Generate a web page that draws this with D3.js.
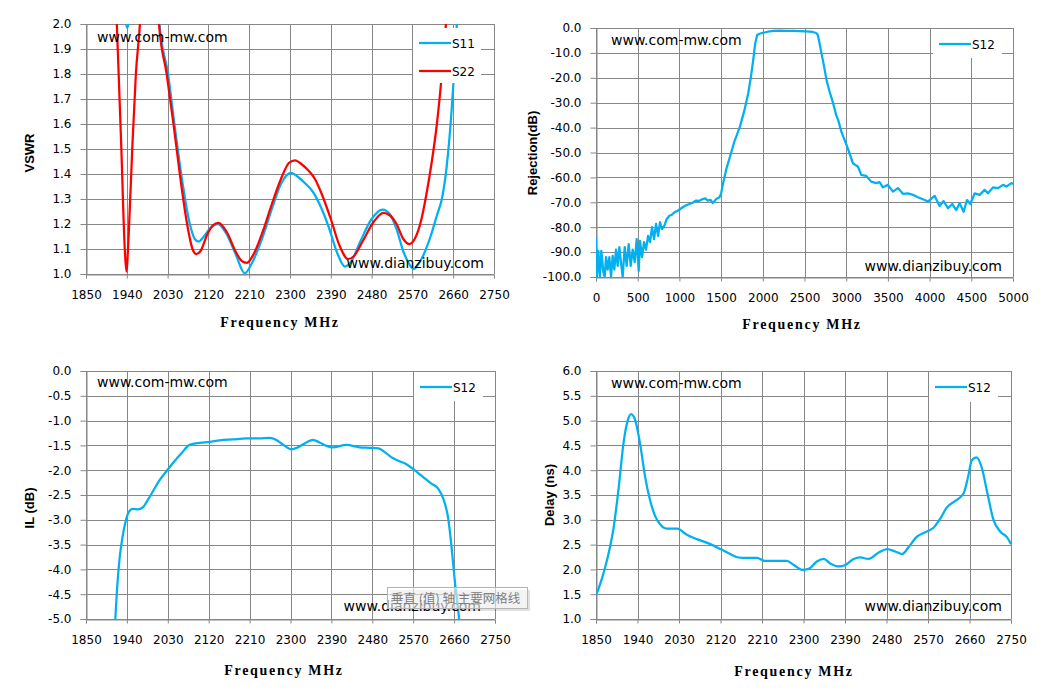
<!DOCTYPE html>
<html>
<head>
<meta charset="utf-8">
<script src="https://cdn.jsdelivr.net/npm/d3@7"></script>
<style>
body{margin:0;background:#fff}
svg{display:block}
</style>
</head>
<body>
<svg id="chart" width="1040" height="688"></svg>
<script>
//---tick values---
var freqTicks = [1850,1940,2030,2120,2210,2300,2390,2480,2570,2660,2750]
var wideTicks = [0,500,1000,1500,2000,2500,3000,3500,4000,4500,5000]
var vswrTicks = [1.0,1.1,1.2,1.3,1.4,1.5,1.6,1.7,1.8,1.9,2.0]
var rejTicks = [0,-10,-20,-30,-40,-50,-60,-70,-80,-90,-100]
var ilTicks = [0,-0.5,-1,-1.5,-2,-2.5,-3,-3.5,-4,-4.5,-5]
var delayTicks = [1,1.5,2,2.5,3,3.5,4,4.5,5,5.5,6]

//---VSWR [MHz, value]---
var s11Vswr = [[1900,3.0],[1925,2.4],[1933,2.08],[1941,1.985],[1949,2.08],[1960,2.6],[1990,2.6],[2004,2.2],[2012,2.0],
  [2031,1.8],[2045,1.6],[2060,1.4],[2079,1.2],[2090,1.14],[2098,1.13],[2110,1.15],[2125,1.185],[2141,1.2],[2160,1.16],
  [2180,1.08],[2200,1.003],[2215,1.04],[2240,1.15],[2260,1.26],[2280,1.36],[2302,1.405],[2320,1.385],[2335,1.36],
  [2350,1.33],[2365,1.28],[2385,1.19],[2405,1.08],[2421,1.03],[2435,1.05],[2455,1.13],[2480,1.22],[2504,1.258],
  [2520,1.24],[2535,1.18],[2550,1.09],[2563,1.04],[2573,1.02],[2590,1.06],[2610,1.15],[2625,1.24],[2635,1.3],
  [2645,1.42],[2652,1.55],[2660,1.75],[2668,2.0],[2680,2.4]]
var s22Vswr = [[1900,3.0],[1912,2.3],[1918,2.0],[1928,1.5],[1935,1.12],[1939,1.01],[1944,1.15],[1952,1.5],[1960,1.8],
  [1969,2.0],[1980,2.4],[2000,2.4],[2011,2.0],[2028,1.8],[2043,1.6],[2057,1.4],[2073,1.2],[2085,1.1],[2093,1.08],
  [2102,1.09],[2118,1.16],[2130,1.195],[2142,1.205],[2160,1.17],[2180,1.09],[2195,1.05],[2205,1.045],[2220,1.08],
  [2240,1.17],[2260,1.28],[2280,1.38],[2298,1.445],[2311,1.455],[2325,1.44],[2340,1.415],[2355,1.38],[2370,1.32],
  [2390,1.22],[2410,1.11],[2428,1.06],[2440,1.07],[2460,1.13],[2485,1.21],[2506,1.245],[2520,1.235],[2535,1.2],
  [2550,1.14],[2563,1.12],[2575,1.14],[2590,1.22],[2600,1.31],[2612,1.44],[2624,1.6],[2635,1.8],[2644,2.0],[2655,2.3]]

//---Rejection 0-5000 MHz---
var s12Rej = [[0,-84],[12,-100],[28,-89.5],[48,-100],[64,-89.5],[88,-98],[104,-100],[120,-92],[140,-97],[160,-92],
  [180,-100],[200,-91.5],[220,-97],[240,-89],[260,-95.5],[280,-88],[304,-95.5],[320,-100],[344,-88],[368,-95.5],
  [392,-86.8],[416,-95.5],[440,-89],[464,-94],[488,-84.8],[512,-97.6],[528,-85.5],[552,-92],[576,-86],[600,-89],
  [624,-83.5],[648,-86],[672,-80],[696,-84.8],[720,-78.7],[744,-83.5],[768,-78],[792,-80.8],[820,-79.4],[848,-76.7],
  [880,-75.4],[910,-75],[940,-74],[980,-73.4],[1040,-72],[1080,-71.2],[1120,-70.7],[1160,-70.2],[1200,-69.3],
  [1240,-69.4],[1280,-68.7],[1310,-68.4],[1340,-69.3],[1370,-69],[1400,-70.3],[1420,-69.6],[1440,-68.7],[1480,-68],
  [1500,-66.5],[1520,-63],[1560,-57],[1606,-51.7],[1660,-45.5],[1725,-39.7],[1780,-33],[1825,-26.3],[1860,-19],
  [1885,-12.9],[1910,-6],[1933,-2.8],[1960,-2.3],[2005,-1.9],[2060,-1.5],[2125,-1.2],[2200,-1.1],[2285,-1.2],
  [2360,-1.2],[2444,-1.3],[2520,-1.4],[2600,-1.6],[2640,-2.0],[2660,-2.8],[2680,-6],[2704,-10.2],[2735,-15.5],
  [2764,-20.9],[2800,-25.5],[2844,-30.3],[2880,-35],[2904,-37],[2943,-41.7],[2980,-44.9],[3010,-47.5],[3040,-50.3],
  [3080,-54.3],[3110,-55],[3140,-55.6],[3180,-59],[3210,-59.2],[3240,-59.4],[3300,-61.7],[3360,-62.3],[3400,-61.9],
  [3440,-64],[3500,-63],[3560,-65.7],[3620,-64.3],[3680,-66.6],[3740,-66.4],[3800,-67],[3860,-68],[3920,-68.8],
  [3980,-69.7],[4060,-67.4],[4120,-71.5],[4168,-69.5],[4220,-72.4],[4272,-70.7],[4320,-73.1],[4360,-70.4],
  [4408,-73.8],[4448,-69.1],[4488,-70.7],[4540,-66.4],[4600,-67],[4660,-65],[4700,-66.4],[4760,-64],[4820,-64.3],
  [4880,-63],[4920,-63.7],[4980,-62.3],[5000,-62.6]]

//---Insertion loss---
var s12Il = [[1912,-5.4],[1914.5,-5.0],[1918,-4.44],[1924,-3.77],[1930,-3.37],[1937,-3.04],[1945,-2.83],[1953,-2.78],
  [1964,-2.79],[1975,-2.75],[1986,-2.6],[1997,-2.43],[2012,-2.2],[2027,-2.02],[2041,-1.86],[2060,-1.66],[2078,-1.49],
  [2100,-1.45],[2122,-1.43],[2144,-1.4],[2173,-1.38],[2203,-1.36],[2232,-1.36],[2254,-1.35],[2269,-1.39],[2283,-1.48],
  [2302,-1.58],[2316,-1.54],[2335,-1.44],[2349,-1.39],[2364,-1.44],[2379,-1.51],[2393,-1.54],[2423,-1.49],[2452,-1.54],
  [2474,-1.55],[2493,-1.56],[2511,-1.66],[2526,-1.76],[2540,-1.82],[2555,-1.88],[2573,-2.0],[2592,-2.14],[2610,-2.27],
  [2625,-2.37],[2636,-2.57],[2647,-2.97],[2654,-3.51],[2661,-4.18],[2671,-5.0],[2674,-5.3]]

//---Group delay---
var s12Delay = [[1851,1.5],[1863,1.82],[1875,2.23],[1888,2.83],[1899,3.63],[1910,4.57],[1919,5.01],[1926,5.13],
  [1935,5.01],[1946,4.51],[1957,3.84],[1968,3.37],[1979,3.06],[1990,2.9],[2004,2.82],[2026,2.82],[2047,2.7],[2069,2.61],
  [2098,2.51],[2120,2.41],[2141,2.31],[2159,2.24],[2178,2.23],[2199,2.23],[2217,2.17],[2243,2.17],[2264,2.17],
  [2279,2.09],[2297,1.99],[2311,2.01],[2329,2.16],[2344,2.21],[2358,2.12],[2376,2.06],[2391,2.09],[2409,2.21],
  [2423,2.24],[2441,2.21],[2463,2.34],[2481,2.41],[2499,2.36],[2514,2.31],[2528,2.45],[2546,2.66],[2564,2.75],
  [2582,2.84],[2597,3.03],[2611,3.25],[2629,3.38],[2647,3.53],[2657,3.87],[2665,4.2],[2675,4.26],[2687,4.04],
  [2698,3.57],[2712,3.0],[2727,2.76],[2741,2.65],[2750,2.51]]

var BLUE = "#00B0F0"
var RED = "#FF0000"
var GRID = "#878787"
var svg = d3.select("#chart")

function fmt1(v){ return v.toFixed(1) }

function drawPanel(p, idx)
{
    var g = svg.append("g")
    var x = d3.scaleLinear().domain(p.xDomain).range([p.left, p.right])
    var y = d3.scaleLinear().domain(p.yDomain).range([p.bottom, p.top])

    //---grid---
    g.selectAll(".vg").data(p.xTicks).enter().append("line")
      .attr("x1", d=>Math.round(x(d))+0.5).attr("x2", d=>Math.round(x(d))+0.5)
      .attr("y1", p.top).attr("y2", p.bottom)
      .attr("stroke", GRID).attr("stroke-width", 1)
    g.selectAll(".hg").data(p.yTicks).enter().append("line")
      .attr("y1", d=>Math.round(y(d))+0.5).attr("y2", d=>Math.round(y(d))+0.5)
      .attr("x1", p.left).attr("x2", p.right)
      .attr("stroke", GRID).attr("stroke-width", 1)

    //---axes---
    var ax = g.append("g").attr("transform", "translate(0," + (Math.round(y(p.yDomain[0]))+0.5) + ")")
      .call(d3.axisBottom(x).tickValues(p.xTicks).tickSize(4).tickPadding(12).tickFormat(d=>d))
    var ay = g.append("g").attr("transform", "translate(" + (Math.round(p.left)+0.5) + ",0)")
      .call(d3.axisLeft(y).tickValues(p.yTicks).tickSize(6).tickPadding(9).tickFormat(fmt1))
    ;[ax, ay].forEach(function(a){
        a.attr("font-family", "'DejaVu Sans', sans-serif").attr("font-size", 12)
        a.select(".domain").attr("stroke", GRID)
        a.selectAll(".tick line").attr("stroke", GRID)
        a.selectAll(".tick text").attr("fill", "#000")
    })

    //---series---
    var clipId = "clip" + idx
    svg.append("clipPath").attr("id", clipId).append("rect")
      .attr("x", p.left).attr("y", p.top).attr("width", p.right-p.left).attr("height", p.bottom-p.top)
    var line = d3.line().x(d=>x(d[0])).y(d=>y(d[1])).curve(p.curve)
    p.series.forEach(function(s){
        g.append("path").datum(s.data)
          .attr("clip-path", "url(#" + clipId + ")")
          .attr("fill", "none").attr("stroke", s.color).attr("stroke-width", 2.25)
          .attr("stroke-linejoin", "round")
          .attr("d", line)
    })

    //---legend---
    var lg = p.legend
    g.append("rect").attr("x", lg.x).attr("y", lg.y).attr("width", lg.w).attr("height", lg.h).attr("fill", "#fff")
    p.series.forEach(function(s, i){
        var ly = lg.y + 15 + i*28
        g.append("line").attr("x1", lg.x+6).attr("x2", lg.x+38).attr("y1", ly).attr("y2", ly)
          .attr("stroke", s.color).attr("stroke-width", 2.25)
        g.append("text").attr("x", lg.x+39).attr("y", ly+4.5)
          .attr("font-family", "'DejaVu Sans', sans-serif").attr("font-size", 12).attr("fill", "#000")
          .text(s.name)
    })

    //---titles---
    g.append("text").attr("x", p.xTitle[0]).attr("y", p.xTitle[1]).attr("text-anchor", "middle")
      .attr("font-family", "'Liberation Serif', serif").attr("font-weight", "bold").attr("font-size", 14)
      .attr("letter-spacing", 1.7)
      .text("Frequency MHz")
    g.append("text").attr("transform", "translate(" + p.yTitle[0] + "," + p.yTitle[1] + ") rotate(-90)")
      .attr("text-anchor", "middle").attr("dy", "0.35em")
      .attr("font-family", "'Liberation Sans', Arial, sans-serif").attr("font-weight", "bold").attr("font-size", 13)
      .text(p.yLabel)

    //---watermarks---
    g.append("text").attr("x", p.mark1[0]).attr("y", p.mark1[1])
      .attr("font-family", "'DejaVu Sans', sans-serif").attr("font-size", 14).attr("fill", "#000")
      .text("www.com-mw.com")
    g.append("text").attr("x", p.mark2[0]).attr("y", p.mark2[1]).attr("text-anchor", "end")
      .attr("font-family", "'DejaVu Sans', sans-serif").attr("font-size", 14).attr("fill", "#000")
      .text("www.dianzibuy.com")
}

var panels = [
  {left:86, right:494, top:24, bottom:274, xDomain:[1850,2750], yDomain:[1,2], xTicks:freqTicks, yTicks:vswrTicks,
   yLabel:"VSWR", xTitle:[280,327], yTitle:[29,153], mark1:[97,42], mark2:[484,268],
   legend:{x:413, y:28, w:68, h:55}, curve:d3.curveMonotoneX,
   series:[{name:"S11", color:BLUE, data:s11Vswr},{name:"S22", color:RED, data:s22Vswr}]},
  {left:596, right:1013, top:28, bottom:277, xDomain:[0,5000], yDomain:[-100,0], xTicks:wideTicks, yTicks:rejTicks,
   yLabel:"Rejection(dB)", xTitle:[802,329], yTitle:[532,153], mark1:[611,45], mark2:[1002,271],
   legend:{x:933, y:29, w:69, h:29}, curve:d3.curveLinear,
   series:[{name:"S12", color:BLUE, data:s12Rej}]},
  {left:86, right:495, top:371, bottom:619, xDomain:[1850,2750], yDomain:[-5,0], xTicks:freqTicks, yTicks:ilTicks,
   yLabel:"IL (dB)", xTitle:[284,675], yTitle:[29,508], mark1:[97,387], mark2:[481,611],
   legend:{x:414, y:372, w:69, h:29}, curve:d3.curveMonotoneX,
   series:[{name:"S12", color:BLUE, data:s12Il}]},
  {left:596, right:1011, top:371, bottom:619, xDomain:[1850,2750], yDomain:[1,6], xTicks:freqTicks, yTicks:delayTicks,
   yLabel:"Delay (ns)", xTitle:[794,676], yTitle:[549,495], mark1:[611,388], mark2:[1002,611],
   legend:{x:929, y:372, w:69, h:30}, curve:d3.curveMonotoneX,
   series:[{name:"S12", color:BLUE, data:s12Delay}]}
]
panels.forEach(drawPanel)

//---Excel tooltip left over in the screenshot---
var tip = svg.append("g")
tip.append("rect").attr("x", 390).attr("y", 590).attr("width", 140).attr("height", 21)
  .attr("fill", "#000").attr("opacity", 0.12)
tip.append("rect").attr("x", 387.5).attr("y", 587.5).attr("width", 140).attr("height", 21)
  .attr("fill", "#fff").attr("fill-opacity", 0.6).attr("stroke", "#b4b4b4")
tip.append("text").attr("x", 391).attr("y", 603)
  .attr("font-family", "'Noto Sans CJK SC', sans-serif").attr("font-size", 12.5).attr("fill", "#808080")
  .text("垂直 (值) 轴 主要网格线")
</script>
</body>
</html>
